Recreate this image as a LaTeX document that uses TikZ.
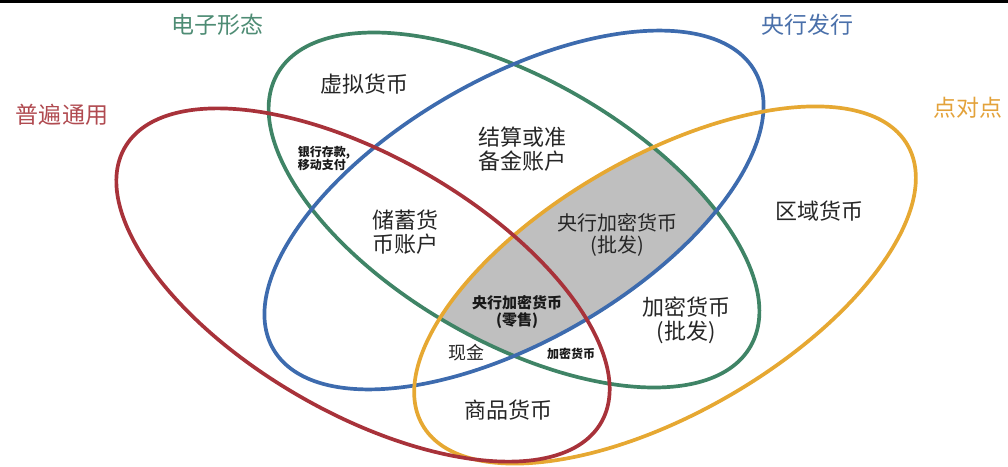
\documentclass[tikz,border=0pt]{standalone}
\usepackage{fontspec}
\setmainfont{Noto Sans CJK SC}
\definecolor{cred}{HTML}{A8323A}
\definecolor{cgreen}{HTML}{3F8466}
\definecolor{cblue}{HTML}{3D6BAE}
\definecolor{corange}{HTML}{E6A832}
\definecolor{tred}{HTML}{B04A50}
\definecolor{tgreen}{HTML}{4E8C74}
\definecolor{tblue}{HTML}{4A70AA}
\definecolor{torange}{HTML}{E3A23A}
\definecolor{cgray}{HTML}{BFBFBF}
\tikzset{
  ring/.style={line width=3.7pt},
  title/.style={font=\fontsize{23}{25}\selectfont, inner sep=0pt},
  big/.style={font=\fontsize{22}{24}\selectfont, align=center, text=black!85, inner sep=0pt},
  mid/.style={font=\fontsize{20}{22}\selectfont, align=center, text=black!85, inner sep=0pt},
  smallb/.style={font=\fontsize{15}{17}\selectfont\bfseries, align=center, text=black!90, inner sep=0pt},
  tinyb/.style={font=\fontsize{12}{13}\selectfont\bfseries, text=black!90, inner sep=0pt},
  cash/.style={font=\fontsize{18}{20}\selectfont, text=black!85, inner sep=0pt}
}
\begin{document}
\begin{tikzpicture}[x=1pt,y=1pt]
\useasboundingbox (0,0) rectangle (1008,-466);
\fill[black] (0,0) rectangle (1008,-3);
\coordinate (cR) at (363,-285);
\coordinate (cO) at (665,-285);
\coordinate (cG) at (514,-210);
\coordinate (cB) at (514,-210);
% gray region: green & blue & orange
\begin{scope}
  \clip[rotate around={-30:(cG)}] (cG) ellipse [x radius=273pt, y radius=131pt];
  \clip[rotate around={30:(cB)}] (cB) ellipse [x radius=278pt, y radius=131pt];
  \fill[cgray, rotate around={30:(cO)}] (cO) ellipse [x radius=280pt, y radius=128pt];
\end{scope}
\draw[ring, cgreen, rotate around={-30:(cG)}] (cG) ellipse [x radius=273pt, y radius=131pt];
\draw[ring, cblue, rotate around={30:(cB)}] (cB) ellipse [x radius=278pt, y radius=131pt];
\draw[ring, corange, rotate around={30:(cO)}] (cO) ellipse [x radius=280pt, y radius=128pt];
\draw[ring, cred, rotate around={-30:(cR)}] (cR) ellipse [x radius=275pt, y radius=128pt];
% titles
\node[title, text=tgreen] (tGreen) at (217,-25) {电子形态};
\node[title, text=tblue] (tBlue) at (807,-25) {央行发行};
\node[title, text=tred] (tRed) at (62,-115) {普遍通用};
\node[title, text=torange] (tOrange) at (968,-108) {点对点};
% region labels
\node[big] (xn) at (364,-84) {虚拟货币};
\node[big] (js) at (522,-149) {结算或准\\备金账户};
\node[big] (cx) at (405,-232) {储蓄货\\币账户};
\node[mid] (cbw) at (617,-235) {央行加密货币\\(批发)};
\node[smallb] (cbr) at (517,-312) {央行加密货币\\(零售)};
\node[big] (jm) at (686,-320) {加密货币\\(批发)};
\node[cash] (xj) at (466,-353) {现金};
\node[tinyb] (jm2) at (571,-354) {加密货币};
\node[big] (sp) at (508,-410) {商品货币};
\node[big] (qy) at (819,-211) {区域货币};
\node[tinyb, align=left] (yh) at (324,-158) {银行存款,\\移动支付};
\end{tikzpicture}
\end{document}
